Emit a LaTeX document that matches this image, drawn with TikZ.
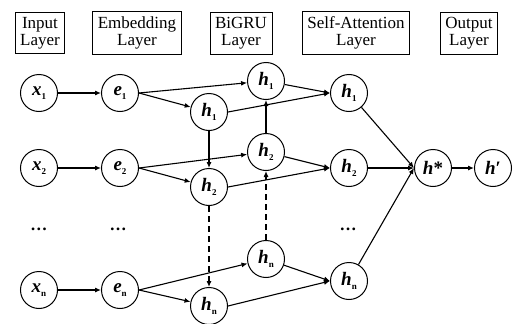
\documentclass[tikz,border=0pt]{standalone}
\usepackage{fontspec}
\setmainfont{Liberation Serif}
\usetikzlibrary{arrows.meta}
\newcommand{\lowidx}[1]{\raisebox{-3.5pt}{\fontsize{9}{9}\selectfont\bfseries #1}}
\newcommand{\vsym}[2]{\textbf{\textit{#1}}\lowidx{#2}}

\begin{document}
\begin{tikzpicture}[>={Latex[length=6pt,width=5pt]},x=1pt,y=-1pt,
  layer/.style={draw,line width=0.9pt,align=center,inner xsep=5pt,inner ysep=5pt,
    font=\fontsize{17}{17}\selectfont},
  unit/.style={draw,circle,line width=1pt,minimum size=37pt,inner sep=0pt,
    font=\fontsize{19}{19}\selectfont},
  gap/.style={font=\fontsize{17}{17}\selectfont,inner sep=0pt,anchor=base},
  link/.style={->,line width=1.1pt},
  back/.style={link,dash pattern=on 6pt off 4pt}]
  \useasboundingbox (0,0) rectangle (517,324);
  %
  % Layer titles
  \node[layer] (tin)  at (40,33)  {Input\\Layer};
  \node[layer] (temb) at (137,33) {Embedding\\Layer};
  \node[layer] (tgru) at (241,33) {BiGRU\\Layer};
  \node[layer] (tatt) at (356,33) {Self-Attention\\Layer};
  \node[layer] (tout) at (469,33) {Output\\Layer};
  %
  % Input and embedding
  \node[unit] (x1) at (39,93)  {\vsym{x}{1}};
  \node[unit] (x2) at (39,168) {\vsym{x}{2}};
  \node[unit] (xn) at (39,290) {\vsym{x}{n}};
  \node[unit] (e1) at (120,93)  {\vsym{e}{1}};
  \node[unit] (e2) at (120,168) {\vsym{e}{2}};
  \node[unit] (en) at (120,290) {\vsym{e}{n}};
  %
  % BiGRU (upper: backward, lower: forward)
  \node[unit] (hu1) at (266,81)  {\vsym{h}{1}};
  \node[unit] (hu2) at (266,152) {\vsym{h}{2}};
  \node[unit] (hun) at (266,259) {\vsym{h}{n}};
  \node[unit] (hl1) at (209,112) {\vsym{h}{1}};
  \node[unit] (hl2) at (209,187) {\vsym{h}{2}};
  \node[unit] (hln) at (209,306) {\vsym{h}{n}};
  %
  % Self-attention and output
  \node[unit] (sa1) at (349,93)  {\vsym{h}{1}};
  \node[unit] (sa2) at (349,168) {\vsym{h}{2}};
  \node[unit] (san) at (349,281) {\vsym{h}{n}};
  \node[unit] (hs) at (433,168) {\textbf{\textit{h}*}};
  \node[unit] (hp) at (493,168) {\textbf{\textit{h}′}};
  %
  % Gaps
  \node[gap] (xdots) at (39,230)  {\textbf{…}};
  \node[gap] (edots) at (118,230) {\textbf{…}};
  \node[gap] (adots) at (348,230) {\textbf{…}};
  %
  % Connections
  \foreach \i in {1,2,n} {
    \draw[link] (x\i) -- (e\i);
    \draw[link] (e\i.east) -- (hu\i);
    \draw[link] (e\i.east) -- (hl\i);
    \draw[link] (hu\i) -- (sa\i.west);
    \draw[link] (hl\i.east) -- (sa\i.west);
    \draw[link] (sa\i) -- (hs.west);
  }
  \draw[link] (hl1) -- (hl2);
  \draw[link] (hu2) -- (hu1);
  \draw[back] (hl2) -- (hln);
  \draw[back] (hun) -- (hu2);
  \draw[link] (hs) -- (hp);
  %
\end{tikzpicture}
\end{document}
